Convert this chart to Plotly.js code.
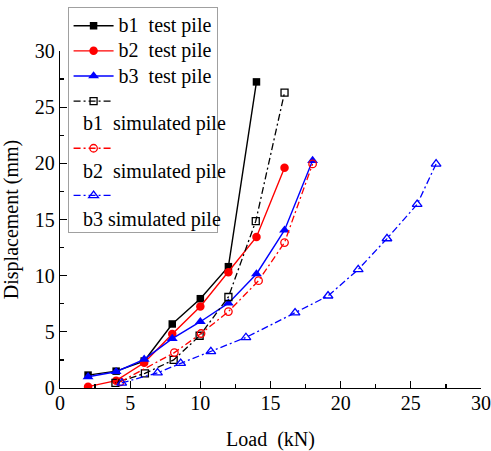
<!DOCTYPE html>
<html>
<head>
<meta charset="utf-8">
<script src="https://cdn.plot.ly/plotly-3.0.1.min.js"></script>
<style>html,body{margin:0;padding:0;background:#fff;}#chart{width:491px;height:451px;}</style>
</head>
<body>
<div id="chart"></div>
<script>
// Test piles
var b1TestLoad = [2, 4, 6, 8, 10, 12, 14];
var b1TestDisp = [1.15, 1.5, 2.4, 5.7, 7.95, 10.8, 27.25];
var b2TestLoad = [2, 4, 6, 8, 10, 12, 14, 16];
var b2TestDisp = [0.12, 0.65, 2.25, 4.8, 7.25, 10.3, 13.45, 19.6];
var b3TestLoad = [2, 4, 6, 8, 10, 12, 14, 16, 18];
var b3TestDisp = [1.0, 1.45, 2.55, 4.4, 5.9, 7.55, 10.15, 14.05, 20.25];
// Simulated piles
var b1SimLoad = [3.95, 6.05, 8.1, 9.95, 12.0, 13.95, 16.0];
var b1SimDisp = [0.45, 1.3, 2.5, 4.65, 8.1, 14.85, 26.3];
var b2SimLoad = [4.3, 8.15, 10.05, 12.0, 14.15, 16.0, 18.0];
var b2SimDisp = [0.55, 3.15, 4.85, 6.8, 9.55, 12.95, 19.95];
var b3SimLoad = [4.4, 6.95, 8.6, 10.75, 13.25, 16.75, 19.1, 21.25, 23.3, 25.45, 26.8];
var b3SimDisp = [0.45, 1.35, 2.2, 3.25, 4.5, 6.7, 8.2, 10.55, 13.3, 16.35, 19.95];

var testNames = ['b1\u00a0\u00a0test pile', 'b2\u00a0\u00a0test pile', 'b3\u00a0\u00a0test pile'];
var simNames = ['b1\u00a0\u00a0simulated pile', 'b2\u00a0\u00a0simulated pile', 'b3 simulated pile'];

var FONT = 'Liberation Serif';
function big(t){ return '<span style="font-size:20px">' + t + '</span>'; }

var traces = [
  {x: b1TestLoad, y: b1TestDisp, name: big(testNames[0]), mode: 'lines+markers',
   line: {color: '#000000', width: 1.4}, marker: {symbol: 'square', size: 7.5, color: '#000000'}},
  {x: b2TestLoad, y: b2TestDisp, name: big(testNames[1]), mode: 'lines+markers',
   line: {color: '#ff0000', width: 1.4}, marker: {symbol: 'circle', size: 8.5, color: '#ff0000'}},
  {x: b3TestLoad, y: b3TestDisp, name: big(testNames[2]), mode: 'lines+markers',
   line: {color: '#0000ff', width: 1.4}, marker: {symbol: 'triangle-up', size: 9.5, color: '#0000ff'}},
  {x: b1SimLoad, y: b1SimDisp, name: '\u00a0<br>\u00a0', mode: 'lines+markers',
   line: {color: '#000000', width: 1.3, dash: '7px,3px,2px,3px'},
   marker: {symbol: 'square-open', size: 7, color: '#000000', line: {width: 1.3}}},
  {x: b2SimLoad, y: b2SimDisp, name: '\u00a0<br>\u00a0', mode: 'lines+markers',
   line: {color: '#ff0000', width: 1.3, dash: '7px,3px,2px,3px'},
   marker: {symbol: 'circle-open', size: 7.5, color: '#ff0000', line: {width: 1.3}}},
  {x: b3SimLoad, y: b3SimDisp, name: '\u00a0<br>\u00a0', mode: 'lines+markers',
   line: {color: '#0000ff', width: 1.3, dash: '7px,3px,2px,3px'},
   marker: {symbol: 'triangle-up-open', size: 8.5, color: '#0000ff', line: {width: 1.3}}}
];

var axisCommon = {
  range: [0, 30], dtick: 5, tick0: 0,
  showgrid: false, zeroline: false, showline: true,
  linecolor: '#000', linewidth: 1.3, mirror: false,
  ticks: 'inside', ticklen: 7, tickwidth: 1.3, tickcolor: '#000',
  minor: {ticks: 'inside', ticklen: 4, tickwidth: 1.3, tickcolor: '#000', dtick: 2.5, showgrid: false},
  tickfont: {family: FONT, size: 20, color: '#000'}
};

var xaxis = Object.assign({}, axisCommon, {
  ticklabelstandoff: -3,
  title: {text: 'Load\u00a0\u00a0(kN)', font: {family: FONT, size: 20, color: '#000'}, standoff: 25}
});
var yaxis = Object.assign({}, axisCommon, {
  title: {text: 'Displacement (mm)', font: {family: FONT, size: 20, color: '#000'}, standoff: 11}
});

var annY = [0.786, 0.642, 0.501];
var annotations = simNames.map(function(t, i){
  return {xref: 'paper', yref: 'paper', x: 0.05, y: annY[i], xanchor: 'left', yanchor: 'middle',
          text: t, showarrow: false, font: {family: FONT, size: 20, color: '#000'}};
});

var layout = {
  width: 491, height: 451,
  margin: {l: 60, r: 10, t: 51, b: 63, autoexpand: false},
  paper_bgcolor: '#fff', plot_bgcolor: '#fff',
  font: {family: FONT, color: '#000'},
  xaxis: xaxis, yaxis: yaxis,
  showlegend: true,
  legend: {x: 0.018, y: 1.13, xanchor: 'left', yanchor: 'top',
           bgcolor: 'rgba(255,255,255,0)', bordercolor: '#a0a0a0', borderwidth: 1,
           font: {family: FONT, size: 17, color: '#000'}, itemwidth: 40, valign: 'top',
           tracegroupgap: 0},
  annotations: annotations
};

Plotly.newPlot('chart', traces, layout, {displayModeBar: false, staticPlot: true});
</script>
</body>
</html>
